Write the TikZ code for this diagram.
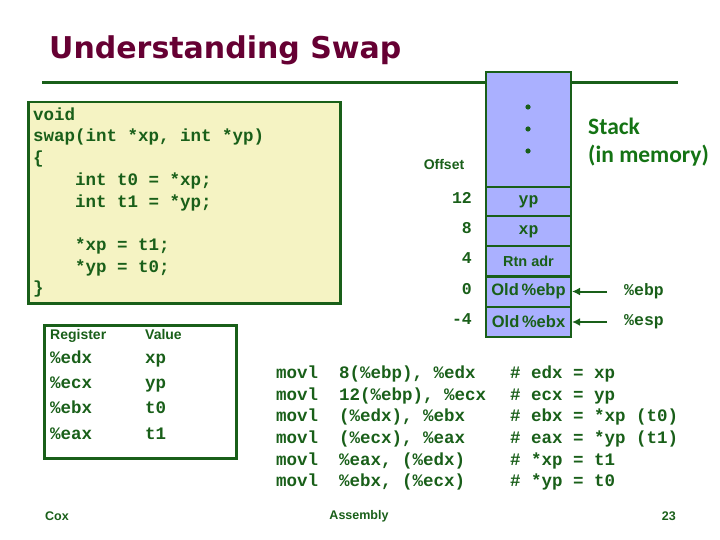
\documentclass[tikz,border=0pt]{standalone}
\usepackage{fontspec}
\setmainfont{Liberation Sans}
\newfontfamily\codefont{Liberation Mono}
\newfontfamily\calfont{Carlito}
\newfontfamily\titlefont{DejaVu Sans}
\usetikzlibrary{arrows.meta}
\definecolor{titlec}{RGB}{102,0,51}
\definecolor{dg}{RGB}{25,95,25}
\definecolor{sg}{RGB}{20,115,20}
\definecolor{codebg}{RGB}{245,243,195}
\definecolor{stackbg}{RGB}{170,176,255}
\tikzset{
  code/.style={font=\codefont\bfseries\fontsize{17.5}{20}\selectfont, text=dg, inner sep=0pt, anchor=mid west},
  lbl/.style={font=\bfseries\fontsize{14}{16}\selectfont, text=dg, inner sep=0pt},
  cell/.style={draw=dg, line width=2pt, fill=stackbg, minimum width=85pt, minimum height=30pt, inner sep=0pt, text=dg},
  cellcode/.style={cell, font=\codefont\bfseries\fontsize{16.5}{18}\selectfont},
  cellsans/.style={cell, font=\bfseries\fontsize{14.5}{16}\selectfont},
  cellold/.style={cell, font=\bfseries\fontsize{16.5}{18}\selectfont},
  offs/.style={code, anchor=mid east, font=\codefont\bfseries\fontsize{16.5}{18}\selectfont},
  ptr/.style={draw=dg, line width=2pt, -{Latex[length=8pt,width=8pt]}},
  foot/.style={font=\bfseries\fontsize{12.5}{15}\selectfont, text=dg, inner sep=0pt},
}
\begin{document}
\begin{tikzpicture}[x=1pt,y=-1pt]
\useasboundingbox (0,0) rectangle (720,540);
% title
\node[font=\titlefont\bfseries\fontsize{30}{36}\selectfont, text=titlec, anchor=base west, inner sep=0pt] (title) at (49,59) {Understanding Swap};
\draw[dg, line width=3pt] (42,83) -- (678,83);
% code box
\node[draw=dg, line width=2.5pt, fill=codebg, minimum width=312pt, minimum height=201pt, anchor=north west, inner sep=0pt] (codebox) at (27,101) {};
\node[code] (l1) at (33,118) {void};
\node[code] (l2) at (33,139) {swap(int *xp, int *yp)};
\node[code] (l3) at (33,161) {\{};
\node[code] (l4) at (75,183) {int t0 = *xp;};
\node[code] (l5) at (75,205) {int t1 = *yp;};
\node[code] (l6) at (75,248) {*xp = t1;};
\node[code] (l7) at (75,270) {*yp = t0;};
\node[code] (l8) at (33,291) {\}};
% stack
\node[cell, minimum height=115pt] (ctop) at (528.5,129.5) {};
\foreach \yy in {107,129,151} \fill[dg] (528,\yy) circle (2.6pt);
\node[cellcode] (c12) at (528.5,202) {yp};
\node[cellcode] (c8) at (528.5,231.5) {xp};
\node[cellsans] (c4) at (528.5,261) {Rtn adr};
\node[cellold] (c0) at (528.5,291.5) {Old\,\%ebp};
\node[cellold] (cm4) at (528.5,322) {Old\,\%ebx};
\node[lbl] (offset) at (444,164) {Offset};
\node[offs] (o12) at (472,201) {12};
\node[offs] (o8) at (472,231) {8};
\node[offs] (o4) at (472,261) {4};
\node[offs] (o0) at (472,292) {0};
\node[offs] (om4) at (472,322) {-4};
\coordinate (pebp) at (607,291.5);
\coordinate (pesp) at (607,322);
\draw[ptr] (pebp) -- (c0.east);
\draw[ptr] (pesp) -- (cm4.east);
\node[code, font=\codefont\bfseries\fontsize{16.5}{18}\selectfont] (rebp) at (624,293) {\%ebp};
\node[code, font=\codefont\bfseries\fontsize{16.5}{18}\selectfont] (resp) at (624,323) {\%esp};
\node[font=\calfont\bfseries\fontsize{23.5}{26}\selectfont, text=sg, inner sep=0pt, anchor=base west] (stack) at (588,135) {Stack};
\node[font=\calfont\bfseries\fontsize{23.5}{26}\selectfont, text=sg, inner sep=0pt, anchor=base west] (inmem) at (588,163) {(in memory)};
% register table
\node[draw=dg, line width=2.5pt, minimum width=192pt, minimum height=133pt, anchor=north west, inner sep=0pt] (regbox) at (43,324) {};
\node[lbl, anchor=base west] (hreg) at (50,339) {Register};
\node[lbl, anchor=base west] (hval) at (145,339) {Value};
\node[code] (r1) at (50,361) {\%edx};
\node[code] (r2) at (50,386) {\%ecx};
\node[code] (r3) at (50,411) {\%ebx};
\node[code] (r4) at (50,437) {\%eax};
\node[code] (v1) at (145,361) {xp};
\node[code] (v2) at (145,386) {yp};
\node[code] (v3) at (145,411) {t0};
\node[code] (v4) at (145,437) {t1};
% assembly
\foreach \i/\op/\cm [count=\k] in {
  0/8(\%ebp){,} \%edx/edx = xp,
  1/12(\%ebp){,} \%ecx/ecx = yp,
  2/(\%edx){,} \%ebx/ebx = *xp (t0),
  3/(\%ecx){,} \%eax/eax = *yp (t1),
  4/\%eax{,} (\%edx)/*xp = t1,
  5/\%ebx{,} (\%ecx)/*yp = t0} {
  \node[code] (m\k) at (276,{376+21.6*\i}) {movl};
  \node[code] (a\k) at (339,{376+21.6*\i}) {\op};
  \node[code] (h\k) at (510,{376+21.6*\i}) {\#};
  \node[code] (c\k) at (531,{376+21.6*\i}) {\cm};
}
% footer
\node[foot, anchor=west] (cox) at (45,516) {Cox};
\node[foot] (asm) at (359,516) {Assembly};
\node[foot, anchor=east] (pg) at (676,516) {23};
\end{tikzpicture}
\end{document}
